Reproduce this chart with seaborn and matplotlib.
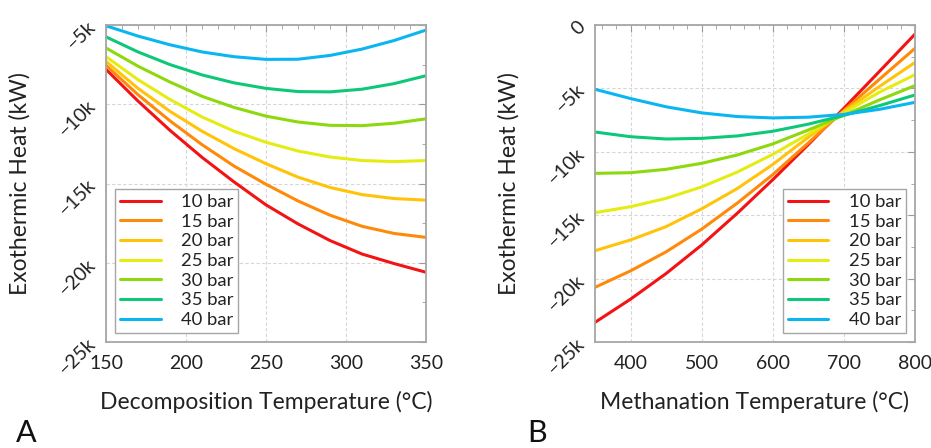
import matplotlib
matplotlib.use("Agg")
import matplotlib.pyplot as plt
from matplotlib.ticker import MultipleLocator, FuncFormatter
import pandas as pd
import seaborn as sns

# Pressures and colours shared by both panels
pressures = ["10 bar", "15 bar", "20 bar", "25 bar", "30 bar", "35 bar", "40 bar"]
colors = ["#f21414", "#ff8a0a", "#ffc40a", "#e4ec12", "#8ed80e", "#0ec87a", "#0ab6f0"]

# Panel A: decomposition temperature (°C) vs exothermic heat (kW)
decomp_temp = [150, 170, 190, 210, 230, 250, 270, 290, 310, 330, 350]
decomp_10 = [-7800, -9800, -11650, -13350, -14900, -16350, -17550, -18600, -19450, -20050, -20600]
decomp_15 = [-7550, -9400, -11050, -12550, -13900, -15050, -16100, -17000, -17700, -18150, -18400]
decomp_20 = [-7300, -9000, -10450, -11700, -12800, -13750, -14600, -15250, -15700, -15950, -16050]
decomp_25 = [-7000, -8450, -9700, -10800, -11700, -12400, -12950, -13330, -13550, -13620, -13550]
decomp_30 = [-6450, -7600, -8600, -9500, -10200, -10750, -11120, -11330, -11350, -11200, -10920]
decomp_35 = [-5750, -6700, -7500, -8150, -8650, -9000, -9200, -9220, -9050, -8700, -8200]
decomp_40 = [-5050, -5700, -6250, -6700, -7000, -7170, -7160, -6920, -6520, -5980, -5320]

# Panel B: methanation temperature (°C) vs exothermic heat (kW)
meth_temp = [350, 400, 450, 500, 550, 600, 650, 700, 750, 800]
meth_10 = [-23450, -21620, -19600, -17350, -14850, -12200, -9430, -6570, -3660, -720]
meth_15 = [-20690, -19390, -17890, -16100, -14050, -11800, -9300, -6740, -4280, -1840]
meth_20 = [-17800, -16950, -15900, -14500, -12900, -11000, -8850, -6820, -4850, -2950]
meth_25 = [-14800, -14330, -13670, -12770, -11600, -10200, -8600, -6920, -5300, -3920]
meth_30 = [-11700, -11650, -11380, -10910, -10250, -9380, -8280, -7120, -5910, -4780]
meth_35 = [-8440, -8810, -8990, -8940, -8750, -8380, -7820, -7130, -6360, -5520]
meth_40 = [-5070, -5800, -6450, -6930, -7220, -7330, -7270, -7050, -6650, -6100]

decomp_series = [decomp_10, decomp_15, decomp_20, decomp_25, decomp_30, decomp_35, decomp_40]
meth_series = [meth_10, meth_15, meth_20, meth_25, meth_30, meth_35, meth_40]


def long_frame(x, series):
    rows = []
    for p, ys in zip(pressures, series):
        for xv, yv in zip(x, ys):
            rows.append({"T": xv, "Q": yv, "P": p})
    return pd.DataFrame(rows)


sns.set_theme(style="white")
plt.rcParams["font.family"] = ["Lato", "DejaVu Sans"]
plt.rcParams["axes.unicode_minus"] = True

fig = plt.figure(figsize=(9.31, 4.48), dpi=100)
ax_a = fig.add_axes([0.1139, 0.2366, 0.3437, 0.7076])
ax_b = fig.add_axes([0.6391, 0.2366, 0.3437, 0.7076])

kfmt = FuncFormatter(lambda v, pos: "0" if v == 0 else f"\u2212{abs(v)/1000:.0f}k")

panels = [
    (ax_a, decomp_temp, decomp_series, (150, 350), (-25000, -5000), 50, 10,
     "Decomposition Temperature (°C)", "lower left", "A", 16),
    (ax_b, meth_temp, meth_series, (350, 800), (-25000, 0), 100, 20,
     "Methanation Temperature (°C)", "lower right", "B", 527),
]

text_col = "#222222"
edge_col = "#a6a6a6"

for ax, xs, series, xlim, ylim, xmaj, xmin, xlabel, loc, tag, tag_x in panels:
    df = long_frame(xs, series)
    sns.lineplot(data=df, x="T", y="Q", hue="P", palette=colors, hue_order=pressures,
                 linewidth=2.2, ax=ax, legend=False)
    ax.set_xlim(*xlim)
    ax.set_ylim(*ylim)
    ax.xaxis.set_major_locator(MultipleLocator(xmaj))
    ax.xaxis.set_minor_locator(MultipleLocator(xmin))
    ax.yaxis.set_major_locator(MultipleLocator(5000))
    ax.yaxis.set_minor_locator(MultipleLocator(2500))
    ax.yaxis.set_major_formatter(kfmt)
    ax.grid(True, which="major", color="#d6d6d6", linestyle=(0, (3, 2)), linewidth=0.8)
    ax.tick_params(which="both", direction="in", top=True, right=True, color="#9a9a9a")
    ax.tick_params(which="major", length=5, width=0.8)
    ax.tick_params(which="minor", length=3, width=0.6)
    ax.tick_params(axis="x", labelsize=14, labelcolor=text_col, pad=9)
    ax.tick_params(axis="y", labelsize=14, labelcolor=text_col, pad=5)
    for lab in ax.get_yticklabels():
        lab.set_rotation(45)
    for s in ax.spines.values():
        s.set_color(edge_col)
        s.set_linewidth(1.3)
    ax.set_xlabel(xlabel, fontsize=16.5, color=text_col)
    ax.set_ylabel("Exothermic Heat (kW)", fontsize=16.5, color=text_col)
    ax.xaxis.set_label_coords(0.5, -0.155)
    ax.yaxis.set_label_coords(-0.237, 0.5)

    handles = [plt.Line2D([], [], color=c, linewidth=2.2) for c in colors]
    leg = ax.legend(handles, pressures, loc=loc, fontsize=13.3, frameon=True, fancybox=False,
                    borderaxespad=0.5, handlelength=2.2, handletextpad=1.1,
                    labelspacing=0.2, borderpad=0.25)
    leg.get_frame().set_edgecolor(edge_col)
    leg.get_frame().set_linewidth(1.0)
    leg.get_frame().set_alpha(1.0)
    for t in leg.get_texts():
        t.set_color(text_col)

    fig.text(tag_x / 931, 1 - 433 / 448, tag, fontsize=22, color="#111111",
             ha="left", va="center")

fig.savefig("out.png", dpi=100)
